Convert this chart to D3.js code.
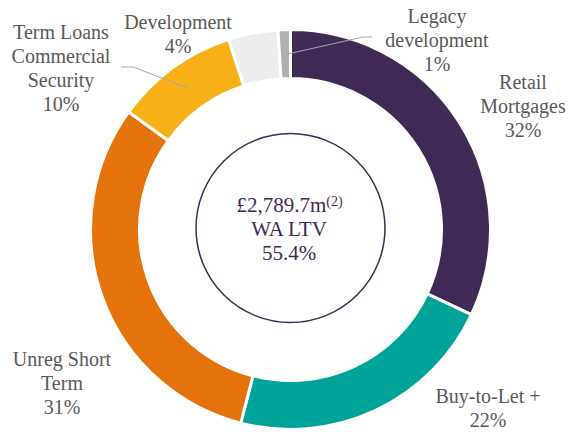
<!DOCTYPE html>
<html>
  <head>
    <meta charset="utf-8">
    <title>Loan book</title>
    <script src="https://cdn.jsdelivr.net/npm/d3@7"></script>
    <style>
      body { margin: 0; background: #fff; }
      text { font-family: "Liberation Serif", "Times New Roman", serif; }
      .label { font-size: 20px; fill: #595959; }
      .centre { font-size: 21px; fill: #3f2a56; }
    </style>
  </head>
  <body>
    <div id="chart"></div>
    <script>
      // slices clockwise from 12 o'clock
      var categories = ['Retail Mortgages', 'Buy-to-Let +', 'Unreg Short Term',
        'Term Loans Commercial Security', 'Development', 'Legacy development'];
      var values = [32, 22, 31, 10, 4, 1];
      var labelLines = [
        ['Retail', 'Mortgages', '32%'],
        ['Buy-to-Let +', '22%'],
        ['Unreg Short', 'Term', '31%'],
        ['Term Loans', 'Commercial', 'Security', '10%'],
        ['Development', '4%'],
        ['Legacy', 'development', '1%']
      ];
      var colours = ['#3f2a56', '#00a39a', '#e5730b', '#f8b019', '#ededed', '#b0b0b0'];
      var centreTotal = '£2,789.7m';
      var centreNote = '(2)';
      var centreLines = ['WA LTV', '55.4%'];

      var width = 569;
      var height = 432;
      var cx = 290.5;
      var cy = 229.5;
      var outer = 200;
      var inner = 151;
      var lineHeight = 24;

      // label anchor (x centre, first baseline) and optional leader elbow
      var labelPos = [
        { x: 523, y: 89 },
        { x: 488, y: 403 },
        { x: 62, y: 366 },
        { x: 61, y: 39, elbow: [[121, 67], [133, 67]] },
        { x: 178, y: 29 },
        { x: 437, y: 23, elbow: [[372, 37], [363, 37]] }
      ];

      var svg = d3.select('#chart').append('svg')
        .attr('width', width)
        .attr('height', height);

      var g = svg.append('g')
        .attr('transform', 'translate(' + cx + ',' + cy + ')');

      var pie = d3.pie().sort(null).value(function(d) { return d; });
      var arc = d3.arc().innerRadius(inner).outerRadius(outer);
      var mid = d3.arc().innerRadius(175).outerRadius(175);
      var arcs = pie(values);

      g.selectAll('path.slice')
        .data(arcs)
        .enter().append('path')
        .attr('class', 'slice')
        .attr('d', arc)
        .attr('fill', function(d, i) { return colours[i]; })
        .attr('stroke', '#fff')
        .attr('stroke-width', 3);

      // leader lines from slice middle to label
      arcs.forEach(function(d, i) {
        var p = labelPos[i];
        if (!p.elbow) return;
        var c = mid.centroid(d);
        var pts = [[c[0] + cx, c[1] + cy]].concat(p.elbow.slice().reverse());
        svg.append('path')
          .attr('d', d3.line()(pts))
          .attr('fill', 'none')
          .attr('stroke', '#a6a6a6')
          .attr('stroke-width', 1);
      });

      labelLines.forEach(function(lines, i) {
        var p = labelPos[i];
        var t = svg.append('text')
          .attr('class', 'label')
          .attr('text-anchor', 'middle');
        lines.forEach(function(s, j) {
          t.append('tspan')
            .attr('x', p.x)
            .attr('y', p.y + j * lineHeight)
            .text(s);
        });
      });

      // centre circle and text
      g.append('circle')
        .attr('cx', 0)
        .attr('cy', -1.5)
        .attr('r', 94.5)
        .attr('fill', 'none')
        .attr('stroke', '#3f2a56')
        .attr('stroke-width', 1.5);

      var ct = g.append('text')
        .attr('class', 'centre')
        .attr('text-anchor', 'middle');
      var first = ct.append('tspan').attr('x', -1).attr('y', -17.5);
      first.append('tspan').text(centreTotal);
      first.append('tspan')
        .attr('dy', -6)
        .attr('font-size', 14)
        .text(centreNote);
      centreLines.forEach(function(s, j) {
        ct.append('tspan')
          .attr('x', -1.5)
          .attr('y', 6.5 + j * lineHeight)
          .text(s);
      });
    </script>
  </body>
</html>
